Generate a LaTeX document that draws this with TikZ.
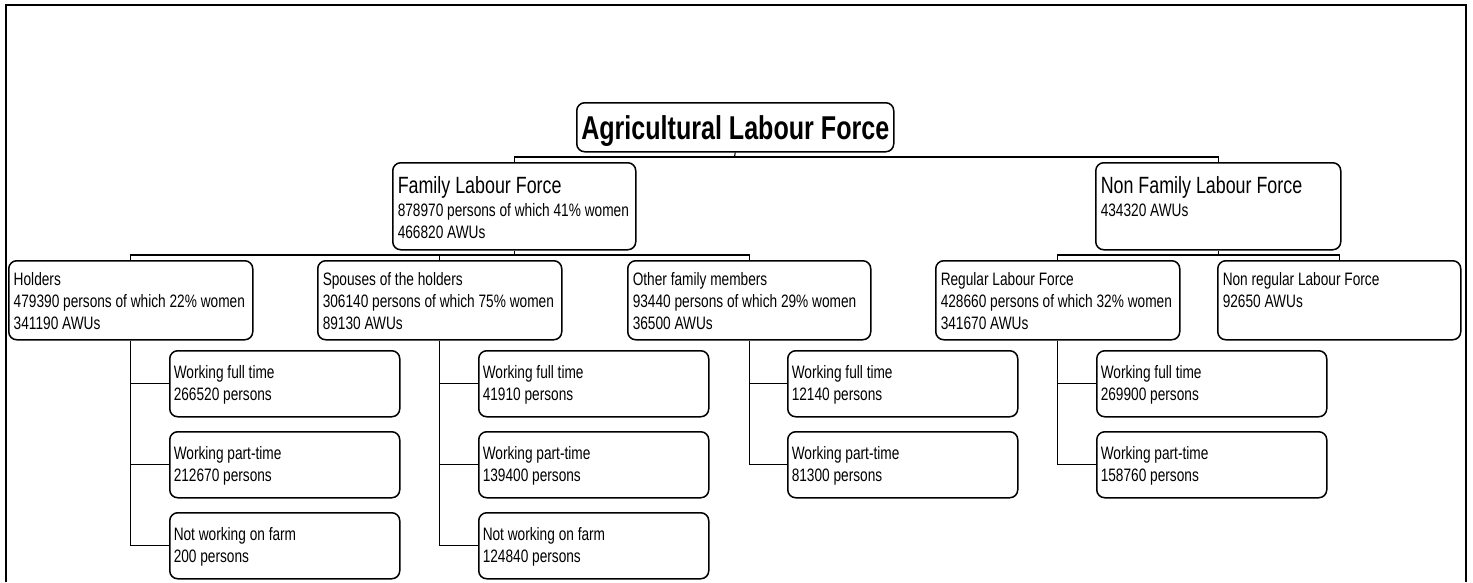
\documentclass[tikz,border=0pt]{standalone}
\usepackage{fontspec}
\setmainfont{Liberation Sans}[FakeStretch=0.76]
\newcommand\boxtxt[5]{\parbox[c][#2pt][t]{#1pt}{\fontsize{18}{22}\selectfont\raggedright\leftskip=#3pt\relax\rule{0pt}{#4pt}#5}}
\newcommand\headtxt[1]{{\fontsize{23.5}{22}\selectfont #1}}
\tikzset{
  bx/.style={draw, rounded corners=8pt, line width=1.5pt, inner sep=0pt, anchor=north west},
  conn/.style={line width=1.1pt},
  frame/.style={line width=2pt}
}
\begin{document}
\begin{tikzpicture}[x=1pt,y=-1pt]
\useasboundingbox (0,0) rectangle (1473,582);
\draw[frame] (6,582) -- (6,5) -- (1466,5) -- (1466,582);

\node[bx, minimum width=317pt, minimum height=49pt, text depth=0pt, font=\fontsize{33}{32}\selectfont\bfseries] (title) at (576,102) {Agricultural Labour Force};

\node[bx] (family) at (392,162) {\boxtxt{243}{87}{5}{31}{\headtxt{Family Labour Force}\\[1pt]878970 persons of which 41\% women\\466820 AWUs}};
\node[bx] (nonfam) at (1095,162) {\boxtxt{245}{87}{5}{31}{\headtxt{Non Family Labour Force}\\[1pt]434320 AWUs}};

\node[bx] (holders) at (8,260) {\boxtxt{244}{79}{5}{25}{Holders\\479390 persons of which 22\% women\\341190 AWUs}};
\node[bx] (spouses) at (317,260) {\boxtxt{244}{79}{5}{25}{Spouses of the holders\\306140 persons of which 75\% women\\89130 AWUs}};
\node[bx] (other) at (627,260) {\boxtxt{243}{79}{5}{25}{Other family members\\93440 persons of which 29\% women\\36500 AWUs}};
\node[bx] (regular) at (935,260) {\boxtxt{244}{79}{5}{25}{Regular Labour Force\\428660 persons of which 32\% women\\341670 AWUs}};
\node[bx] (nonreg) at (1217,260) {\boxtxt{243}{79}{5}{25}{Non regular Labour Force\\92650 AWUs}};

\node[bx] (hft) at (169,350) {\boxtxt{230}{66}{4}{28}{Working full time\\266520 persons}};
\node[bx] (hpt) at (169,431) {\boxtxt{230}{66}{4}{28}{Working part-time\\212670 persons}};
\node[bx] (hnw) at (169,512) {\boxtxt{230}{66}{4}{28}{Not working on farm\\200 persons}};

\node[bx] (sft) at (478,350) {\boxtxt{230}{66}{4}{28}{Working full time\\41910 persons}};
\node[bx] (spt) at (478,431) {\boxtxt{230}{66}{4}{28}{Working part-time\\139400 persons}};
\node[bx] (snw) at (478,512) {\boxtxt{230}{66}{4}{28}{Not working on farm\\124840 persons}};

\node[bx] (oft) at (787,350) {\boxtxt{230}{66}{4}{28}{Working full time\\12140 persons}};
\node[bx] (opt) at (787,431) {\boxtxt{230}{66}{4}{28}{Working part-time\\81300 persons}};

\node[bx] (rft) at (1096,350) {\boxtxt{230}{66}{4}{28}{Working full time\\269900 persons}};
\node[bx] (rpt) at (1096,431) {\boxtxt{230}{66}{4}{28}{Working part-time\\158760 persons}};

\coordinate (tb) at (734.5,157);
\coordinate (fb) at (513,255);
\coordinate (nb) at (1217,255);

\draw[conn] (title.south) -- (tb);
\draw[conn] (family.north) |- (tb) -| (nonfam.north);

\draw[conn] (family.south) -- (family.south |- fb);
\draw[conn] (holders.north) |- (fb) -| (other.north);
\draw[conn] (spouses.north) -- (spouses.north |- fb);

\draw[conn] (nonfam.south) -- (nonfam.south |- nb);
\draw[conn] (regular.north) |- (nb) -| (nonreg.north);

\draw[conn] (holders.south) |- (hft.west);
\draw[conn] (holders.south) |- (hpt.west);
\draw[conn] (holders.south) |- (hnw.west);
\draw[conn] (spouses.south) |- (sft.west);
\draw[conn] (spouses.south) |- (spt.west);
\draw[conn] (spouses.south) |- (snw.west);
\draw[conn] (other.south) |- (oft.west);
\draw[conn] (other.south) |- (opt.west);
\draw[conn] (regular.south) |- (rft.west);
\draw[conn] (regular.south) |- (rpt.west);
\end{tikzpicture}
\end{document}
